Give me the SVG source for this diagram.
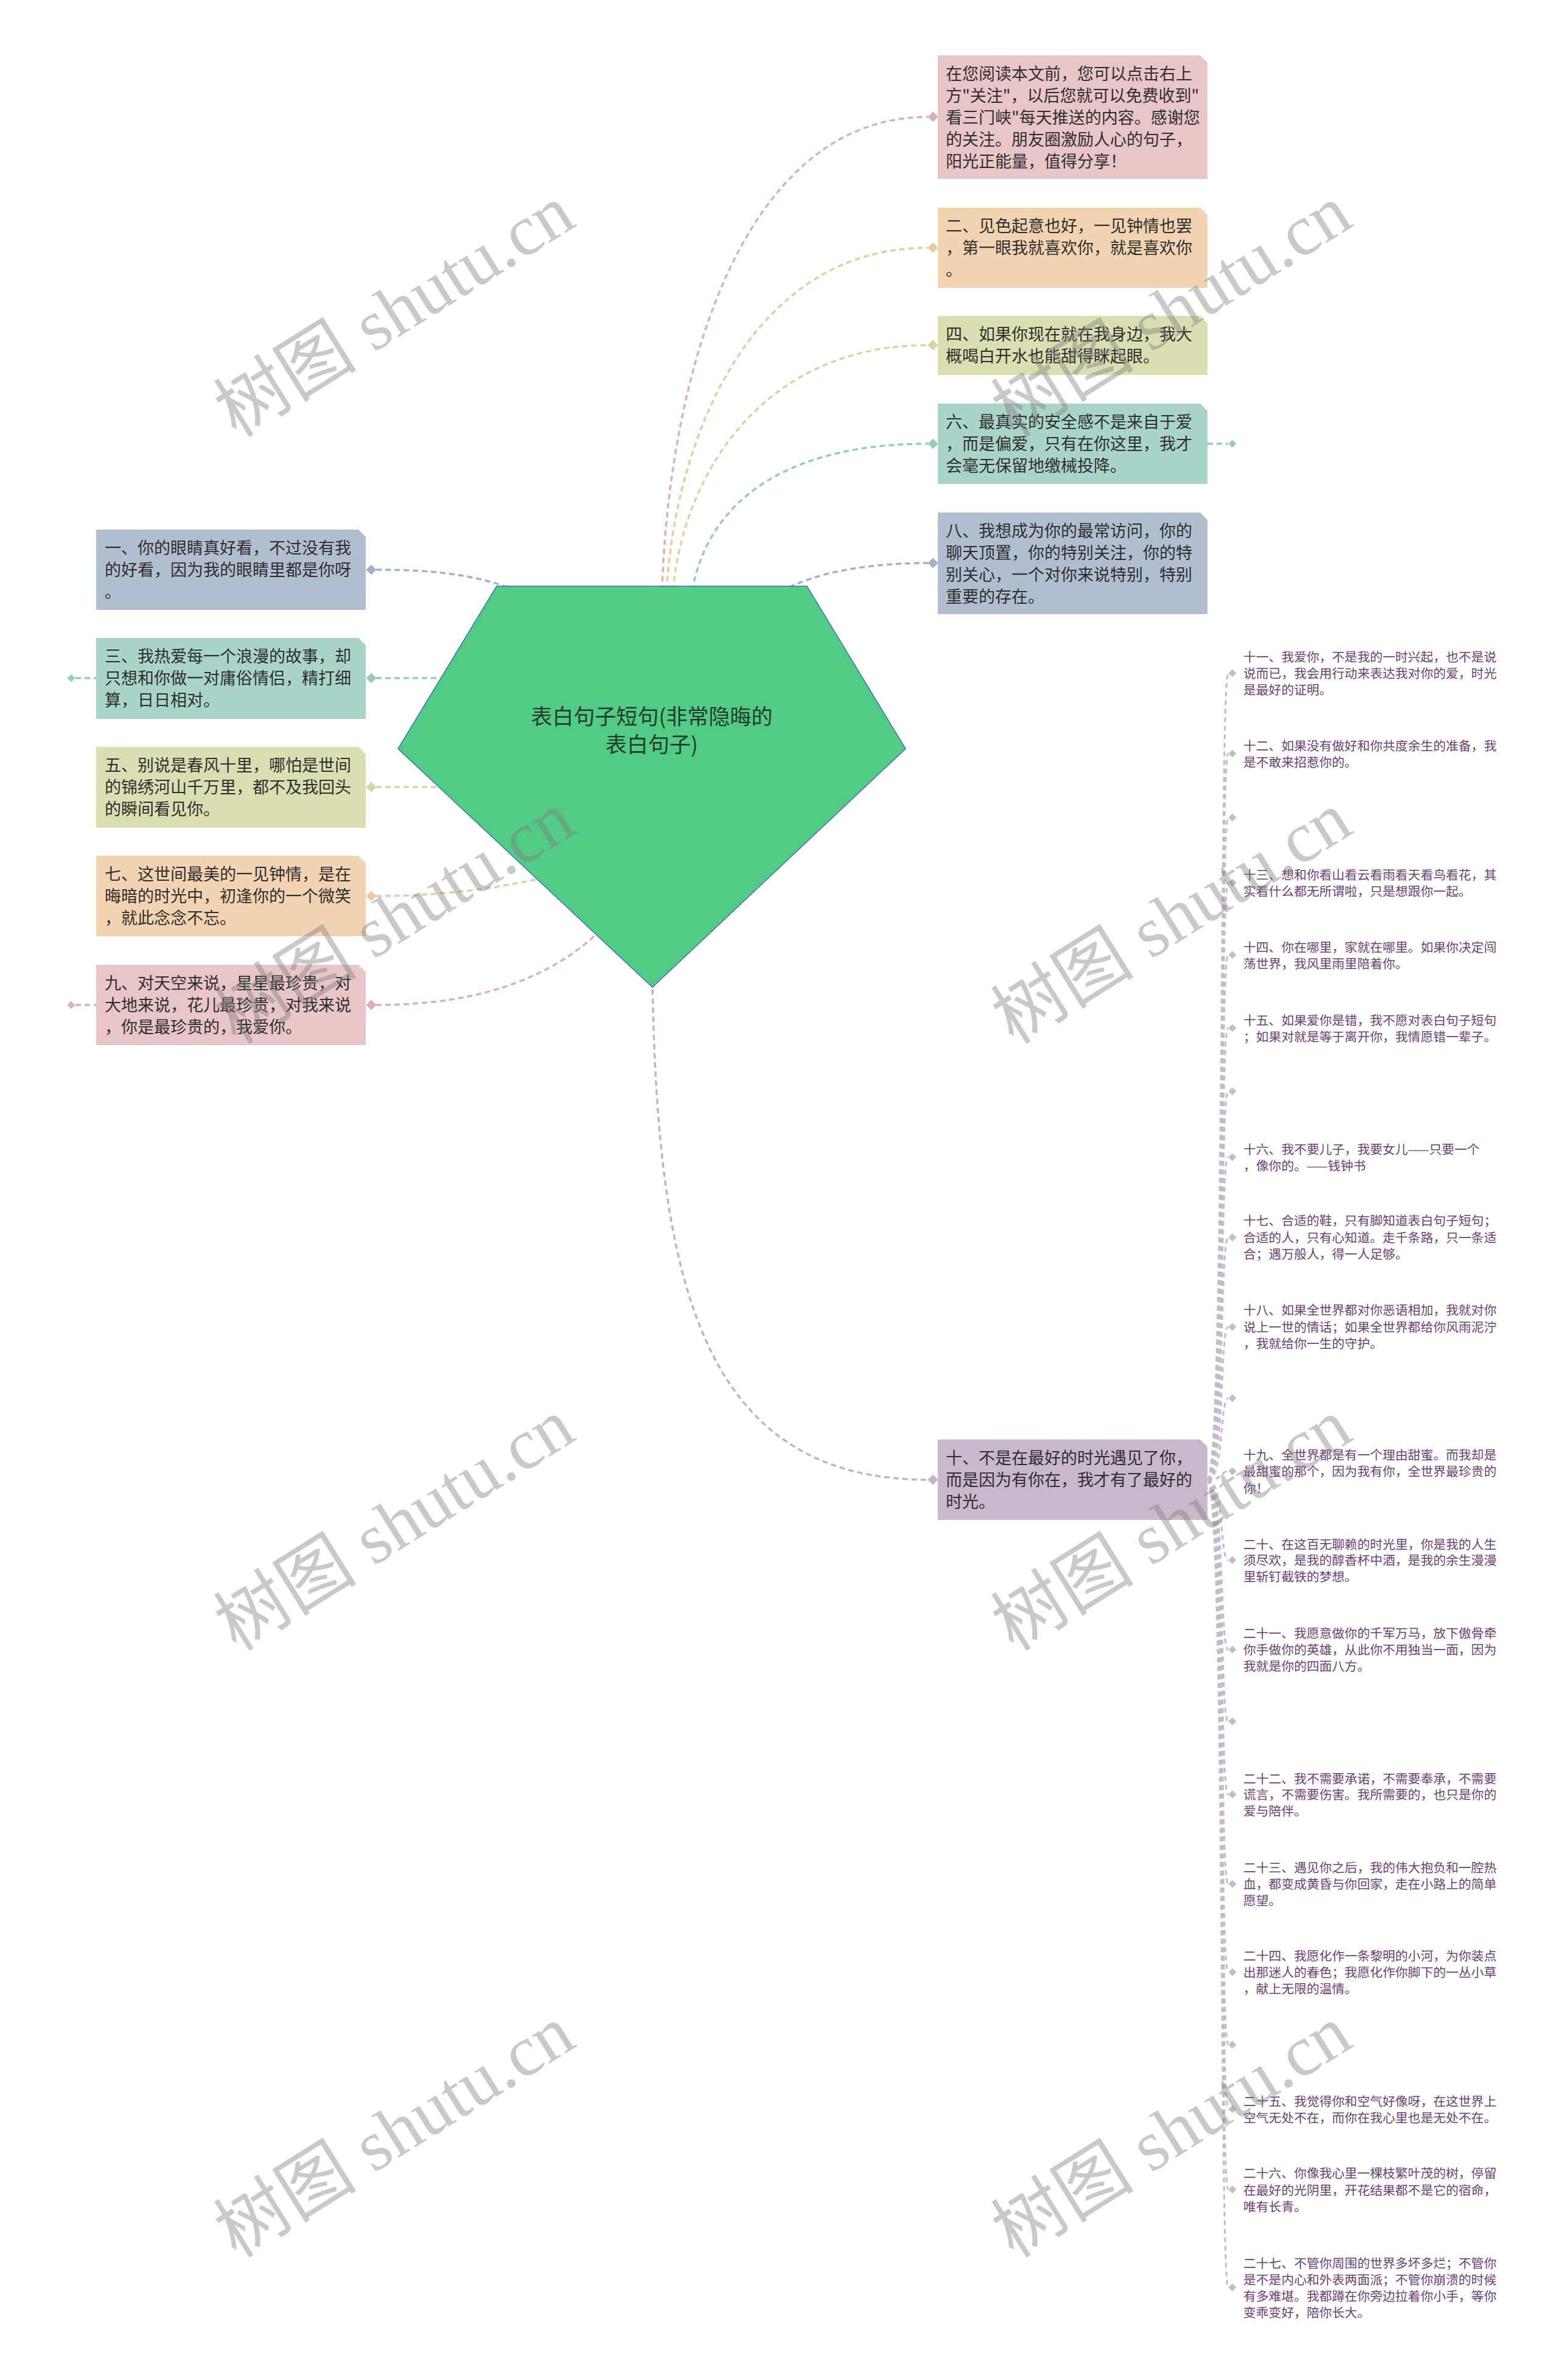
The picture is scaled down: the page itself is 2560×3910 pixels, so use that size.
<svg xmlns="http://www.w3.org/2000/svg" xmlns:xlink="http://www.w3.org/1999/xlink" width="2560" height="3910" viewBox="0 0 2560 3910">
<style>
.bg{fill:#ffffff}
.cn{fill:none;stroke-width:3.5;stroke-dasharray:9 6}
.pk{stroke:#dcb0b4}.or{stroke:#ecc9a2}.ol{stroke:#d3d7a4}.tl{stroke:#97cbbf}.bl{stroke:#a3b1c6}.pu{stroke:#c3b3c9}
.sp{fill:none;stroke:#c6b9cc;stroke-width:3;stroke-dasharray:8 6}
.t{font-family:"Noto Sans CJK SC","Liberation Sans",sans-serif;font-size:27px;fill:#2e2e2e}
.ts{font-family:"Noto Sans CJK SC","Liberation Sans",sans-serif;font-size:20.8px;fill:#6e3f78}
.tc{font-family:"Noto Sans CJK SC","Liberation Sans",sans-serif;font-size:35px;fill:#243a2c;text-anchor:middle}
.wm{font-family:"Liberation Serif","Noto Sans CJK SC",serif;font-size:118px;fill:#808080;opacity:0.42;text-anchor:middle}
</style>
<defs>
<path id="dm" d="M0,-8.5 L8.5,0 L0,8.5 L-8.5,0Z"/>
<path id="ds" d="M0,-6.5 L6.5,0 L0,6.5 L-6.5,0Z"/>
<path id="box" d="M0,0 H431 L443,12 V0 Z"/>
</defs>
<rect class="bg" x="0" y="0" width="2560" height="3910"/>

<g id="connectors">
<path class="cn pk" d="M1087 1000 C1093 640,1210 192,1525 192"/>
<path class="cn or" d="M1094 1000 C1100 750,1220 407,1525 407"/>
<path class="cn ol" d="M1104 1000 C1110 800,1240 567,1525 567"/>
<path class="cn tl" d="M1134 1000 C1145 850,1260 729,1525 729"/>
<path class="cn bl" d="M1260 990 C1300 950,1400 925,1525 925"/>
<path class="cn bl" d="M618 936 C720 936,790 945,860 975"/>
<path class="cn tl" d="M618 1114 H745"/>
<path class="cn ol" d="M618 1293 H745"/>
<path class="cn or" d="M618 1472 C720 1472,820 1460,900 1440"/>
<path class="cn pk" d="M618 1651 C800 1651,920 1600,1000 1515"/>
<path class="cn pu" d="M1072 1610 C1080 2100,1150 2431,1525 2431"/>
<path class="cn tl" d="M1984 729 H2018"/>
<path class="cn tl" d="M124 1114 H158"/>
<path class="cn pk" d="M124 1651 H158"/>
<g id="spine">
<path class="sp" d="M1984 2431 C2012 2431,2004 1106,2018 1106"/>
<path class="sp" d="M1984 2431 C2012 2431,2004 1238,2018 1238"/>
<path class="sp" d="M1984 2431 C2012 2431,2004 1343,2018 1343"/>
<path class="sp" d="M1984 2431 C2012 2431,2004 1450,2018 1450"/>
<path class="sp" d="M1984 2431 C2012 2431,2004 1569,2018 1569"/>
<path class="sp" d="M1984 2431 C2012 2431,2004 1689,2018 1689"/>
<path class="sp" d="M1984 2431 C2012 2431,2004 1793,2018 1793"/>
<path class="sp" d="M1984 2431 C2012 2431,2004 1901,2018 1901"/>
<path class="sp" d="M1984 2431 C2012 2431,2004 2033,2018 2033"/>
<path class="sp" d="M1984 2431 C2012 2431,2004 2180,2018 2180"/>
<path class="sp" d="M1984 2431 C2012 2431,2004 2297,2018 2297"/>
<path class="sp" d="M1984 2431 C2012 2431,2004 2417,2018 2417"/>
<path class="sp" d="M1984 2431 C2012 2431,2004 2563,2018 2563"/>
<path class="sp" d="M1984 2431 C2012 2431,2004 2710,2018 2710"/>
<path class="sp" d="M1984 2431 C2012 2431,2004 2828,2018 2828"/>
<path class="sp" d="M1984 2431 C2012 2431,2004 2948,2018 2948"/>
<path class="sp" d="M1984 2431 C2012 2431,2004 3095,2018 3095"/>
<path class="sp" d="M1984 2431 C2012 2431,2004 3240,2018 3240"/>
<path class="sp" d="M1984 2431 C2012 2431,2004 3359,2018 3359"/>
<path class="sp" d="M1984 2431 C2012 2431,2004 3465,2018 3465"/>
<path class="sp" d="M1984 2431 C2012 2431,2004 3597,2018 3597"/>
<path class="sp" d="M1984 2431 C2012 2431,2004 3758,2018 3758"/>
</g>
</g>

<g id="root">
<polygon points="816,963 1326,963 1488,1230 1072,1622 654,1230" fill="#52cc84" stroke="#3f6fc0" stroke-width="1.5"/>
<text class="tc"><tspan x="1071" y="1190">表白句子短句(非常隐晦的</tspan><tspan x="1071" y="1236">表白句子)</tspan></text>
</g>

<g id="n0">
<path d="M1541 91 H1972 L1984 103 V294 H1541 Z" fill="#e8c5c6"/>
<use href="#dm" x="1533" y="192" fill="#dcb0b4"/>
<text class="t"><tspan x="1554" y="131">在您阅读本文前，您可以点击右上</tspan><tspan x="1554" y="167">方"关注"，以后您就可以免费收到"</tspan><tspan x="1554" y="203">看三门峡"每天推送的内容。感谢您</tspan><tspan x="1554" y="239">的关注。朋友圈激励人心的句子，</tspan><tspan x="1554" y="275">阳光正能量，值得分享！</tspan></text>
</g>
<g id="n2">
<path d="M1541 341 H1972 L1984 353 V473 H1541 Z" fill="#f3d4b2"/>
<use href="#dm" x="1533" y="407" fill="#ecc9a2"/>
<text class="t"><tspan x="1554" y="381">二、见色起意也好，一见钟情也罢</tspan><tspan x="1554" y="417">，第一眼我就喜欢你，就是喜欢你</tspan><tspan x="1554" y="453">。</tspan></text>
</g>
<g id="n4">
<path d="M1541 519 H1972 L1984 531 V616 H1541 Z" fill="#dadeb1"/>
<use href="#dm" x="1533" y="567" fill="#d3d7a4"/>
<text class="t"><tspan x="1554" y="559">四、如果你现在就在我身边，我大</tspan><tspan x="1554" y="595">概喝白开水也能甜得眯起眼。</tspan></text>
</g>
<g id="n6">
<path d="M1541 663 H1972 L1984 675 V795 H1541 Z" fill="#a9d4ca"/>
<use href="#dm" x="1533" y="729" fill="#97cbbf"/>
<use href="#ds" x="2025" y="729" fill="#97cbbf"/>
<text class="t"><tspan x="1554" y="703">六、最真实的安全感不是来自于爱</tspan><tspan x="1554" y="739">，而是偏爱，只有在你这里，我才</tspan><tspan x="1554" y="775">会毫无保留地缴械投降。</tspan></text>
</g>
<g id="n8">
<path d="M1541 842 H1972 L1984 854 V1009 H1541 Z" fill="#b1bed0"/>
<use href="#dm" x="1533" y="925" fill="#a3b1c6"/>
<text class="t"><tspan x="1554" y="882">八、我想成为你的最常访问，你的</tspan><tspan x="1554" y="918">聊天顶置，你的特别关注，你的特</tspan><tspan x="1554" y="954">别关心，一个对你来说特别，特别</tspan><tspan x="1554" y="990">重要的存在。</tspan></text>
</g>
<g id="n10">
<path d="M1541 2365 H1972 L1984 2377 V2497 H1541 Z" fill="#c8b8cc"/>
<use href="#dm" x="1533" y="2431" fill="#c3b3c9"/>
<text class="t"><tspan x="1554" y="2405">十、不是在最好的时光遇见了你，</tspan><tspan x="1554" y="2441">而是因为有你在，我才有了最好的</tspan><tspan x="1554" y="2477">时光。</tspan></text>
</g>

<g id="n1">
<path d="M158 870 H589 L601 882 V1002 H158 Z" fill="#b1bed0"/>
<use href="#dm" x="610" y="936" fill="#a3b1c6"/>
<text class="t"><tspan x="172" y="910">一、你的眼睛真好看，不过没有我</tspan><tspan x="172" y="946">的好看，因为我的眼睛里都是你呀</tspan><tspan x="172" y="982">。</tspan></text>
</g>
<g id="n3">
<path d="M158 1048 H589 L601 1060 V1181 H158 Z" fill="#a9d4ca"/>
<use href="#dm" x="610" y="1114" fill="#97cbbf"/>
<use href="#ds" x="117" y="1114" fill="#97cbbf"/>
<text class="t"><tspan x="172" y="1088">三、我热爱每一个浪漫的故事，却</tspan><tspan x="172" y="1124">只想和你做一对庸俗情侣，精打细</tspan><tspan x="172" y="1160">算，日日相对。</tspan></text>
</g>
<g id="n5">
<path d="M158 1227 H589 L601 1239 V1360 H158 Z" fill="#dadeb1"/>
<use href="#dm" x="610" y="1293" fill="#d3d7a4"/>
<text class="t"><tspan x="172" y="1267">五、别说是春风十里，哪怕是世间</tspan><tspan x="172" y="1303">的锦绣河山千万里，都不及我回头</tspan><tspan x="172" y="1339">的瞬间看见你。</tspan></text>
</g>
<g id="n7">
<path d="M158 1406 H589 L601 1418 V1538 H158 Z" fill="#f3d4b2"/>
<use href="#dm" x="610" y="1472" fill="#ecc9a2"/>
<text class="t"><tspan x="172" y="1446">七、这世间最美的一见钟情，是在</tspan><tspan x="172" y="1482">晦暗的时光中，初逢你的一个微笑</tspan><tspan x="172" y="1518">，就此念念不忘。</tspan></text>
</g>
<g id="n9">
<path d="M158 1585 H589 L601 1597 V1717 H158 Z" fill="#e8c5c6"/>
<use href="#dm" x="610" y="1651" fill="#dcb0b4"/>
<use href="#ds" x="117" y="1651" fill="#dcb0b4"/>
<text class="t"><tspan x="172" y="1625">九、对天空来说，星星最珍贵，对</tspan><tspan x="172" y="1661">大地来说，花儿最珍贵，对我来说</tspan><tspan x="172" y="1697">，你是最珍贵的，我爱你。</tspan></text>
</g>

<g id="list" fill="#c6b9cc">
<g id="i11"><use href="#ds" x="2025" y="1106"/><text class="ts"><tspan x="2043" y="1087">十一、我爱你，不是我的一时兴起，也不是说</tspan><tspan x="2043" y="1114">说而已，我会用行动来表达我对你的爱，时光</tspan><tspan x="2043" y="1141">是最好的证明。</tspan></text></g>
<g id="i12"><use href="#ds" x="2025" y="1238"/><text class="ts"><tspan x="2043" y="1233">十二、如果没有做好和你共度余生的准备，我</tspan><tspan x="2043" y="1260">是不敢来招惹你的。</tspan></text></g>
<g id="e1"><use href="#ds" x="2025" y="1343"/></g>
<g id="i13"><use href="#ds" x="2025" y="1450"/><text class="ts"><tspan x="2043" y="1445">十三、想和你看山看云看雨看天看鸟看花，其</tspan><tspan x="2043" y="1472">实看什么都无所谓啦，只是想跟你一起。</tspan></text></g>
<g id="i14"><use href="#ds" x="2025" y="1569"/><text class="ts"><tspan x="2043" y="1564">十四、你在哪里，家就在哪里。如果你决定闯</tspan><tspan x="2043" y="1591">荡世界，我风里雨里陪着你。</tspan></text></g>
<g id="i15"><use href="#ds" x="2025" y="1689"/><text class="ts"><tspan x="2043" y="1684">十五、如果爱你是错，我不愿对表白句子短句</tspan><tspan x="2043" y="1711">；如果对就是等于离开你，我情愿错一辈子。</tspan></text></g>
<g id="e2"><use href="#ds" x="2025" y="1793"/></g>
<g id="i16"><use href="#ds" x="2025" y="1901"/><text class="ts"><tspan x="2043" y="1896">十六、我不要儿子，我要女儿——只要一个</tspan><tspan x="2043" y="1923">，像你的。——钱钟书</tspan></text></g>
<g id="i17"><use href="#ds" x="2025" y="2033"/><text class="ts"><tspan x="2043" y="2013">十七、合适的鞋，只有脚知道表白句子短句；</tspan><tspan x="2043" y="2041">合适的人，只有心知道。走千条路，只一条适</tspan><tspan x="2043" y="2068">合；遇万般人，得一人足够。</tspan></text></g>
<g id="i18"><use href="#ds" x="2025" y="2180"/><text class="ts"><tspan x="2043" y="2160">十八、如果全世界都对你恶语相加，我就对你</tspan><tspan x="2043" y="2188">说上一世的情话；如果全世界都给你风雨泥泞</tspan><tspan x="2043" y="2215">，我就给你一生的守护。</tspan></text></g>
<g id="e3"><use href="#ds" x="2025" y="2297"/></g>
<g id="i19"><use href="#ds" x="2025" y="2417"/><text class="ts"><tspan x="2043" y="2398">十九、全世界都是有一个理由甜蜜。而我却是</tspan><tspan x="2043" y="2425">最甜蜜的那个，因为我有你，全世界最珍贵的</tspan><tspan x="2043" y="2453">你！</tspan></text></g>
<g id="i20"><use href="#ds" x="2025" y="2563"/><text class="ts"><tspan x="2043" y="2545">二十、在这百无聊赖的时光里，你是我的人生</tspan><tspan x="2043" y="2571">须尽欢，是我的醇香杯中酒，是我的余生漫漫</tspan><tspan x="2043" y="2598">里斩钉截铁的梦想。</tspan></text></g>
<g id="i21"><use href="#ds" x="2025" y="2710"/><text class="ts"><tspan x="2043" y="2691">二十一、我愿意做你的千军万马，放下傲骨牵</tspan><tspan x="2043" y="2718">你手做你的英雄，从此你不用独当一面，因为</tspan><tspan x="2043" y="2745">我就是你的四面八方。</tspan></text></g>
<g id="e4"><use href="#ds" x="2025" y="2828"/></g>
<g id="i22"><use href="#ds" x="2025" y="2948"/><text class="ts"><tspan x="2043" y="2930">二十二、我不需要承诺，不需要奉承，不需要</tspan><tspan x="2043" y="2956">谎言，不需要伤害。我所需要的，也只是你的</tspan><tspan x="2043" y="2983">爱与陪伴。</tspan></text></g>
<g id="i23"><use href="#ds" x="2025" y="3095"/><text class="ts"><tspan x="2043" y="3076">二十三、遇见你之后，我的伟大抱负和一腔热</tspan><tspan x="2043" y="3103">血，都变成黄昏与你回家，走在小路上的简单</tspan><tspan x="2043" y="3130">愿望。</tspan></text></g>
<g id="i24"><use href="#ds" x="2025" y="3240"/><text class="ts"><tspan x="2043" y="3221">二十四、我愿化作一条黎明的小河，为你装点</tspan><tspan x="2043" y="3248">出那迷人的春色；我愿化作你脚下的一丛小草</tspan><tspan x="2043" y="3275">，献上无限的温情。</tspan></text></g>
<g id="e5"><use href="#ds" x="2025" y="3359"/></g>
<g id="i25"><use href="#ds" x="2025" y="3465"/><text class="ts"><tspan x="2043" y="3460">二十五、我觉得你和空气好像呀，在这世界上</tspan><tspan x="2043" y="3487">空气无处不在，而你在我心里也是无处不在。</tspan></text></g>
<g id="i26"><use href="#ds" x="2025" y="3597"/><text class="ts"><tspan x="2043" y="3578">二十六、你像我心里一棵枝繁叶茂的树，停留</tspan><tspan x="2043" y="3606">在最好的光阴里，开花结果都不是它的宿命，</tspan><tspan x="2043" y="3633">唯有长青。</tspan></text></g>
<g id="i27"><use href="#ds" x="2025" y="3758"/><text class="ts"><tspan x="2043" y="3726">二十七、不管你周围的世界多坏多烂；不管你</tspan><tspan x="2043" y="3753">是不是内心和外表两面派；不管你崩溃的时候</tspan><tspan x="2043" y="3780">有多难堪。我都蹲在你旁边拉着你小手，等你</tspan><tspan x="2043" y="3807">变乖变好，陪你长大。</tspan></text></g>
</g>

<g id="watermarks">
<text class="wm" transform="rotate(-32 648 511)" x="648" y="551">树图 shutu.cn</text>
<text class="wm" transform="rotate(-32 1925 511)" x="1925" y="551">树图 shutu.cn</text>
<text class="wm" transform="rotate(-32 648 1508)" x="648" y="1548">树图 shutu.cn</text>
<text class="wm" transform="rotate(-32 1925 1508)" x="1925" y="1548">树图 shutu.cn</text>
<text class="wm" transform="rotate(-32 648 2505)" x="648" y="2545">树图 shutu.cn</text>
<text class="wm" transform="rotate(-32 1925 2505)" x="1925" y="2545">树图 shutu.cn</text>
<text class="wm" transform="rotate(-32 648 3502)" x="648" y="3542">树图 shutu.cn</text>
<text class="wm" transform="rotate(-32 1925 3502)" x="1925" y="3542">树图 shutu.cn</text>
</g>
</svg>
